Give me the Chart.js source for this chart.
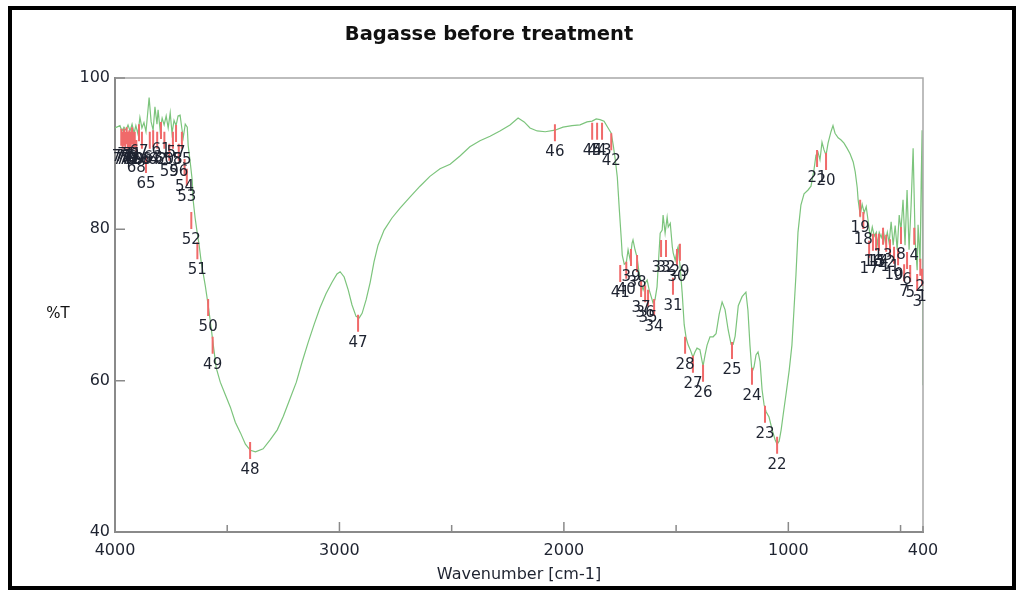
<!DOCTYPE html>
<html>
<head>
<meta charset="utf-8">
<script src="https://cdn.jsdelivr.net/npm/chart.js@4"></script>
<style>
  html, body { margin: 0; padding: 0; background: #fff; }
  #wrap { width: 1022px; height: 590px; }
</style>
</head>
<body>
<div id="wrap"><canvas id="ftirChart" width="1022" height="590"></canvas></div>
<script>
// spectrum (cm-1 / %T)
const wavenumber = [
  4000, 3978, 3969, 3960, 3951, 3942, 3933, 3924, 3915, 3907, 3898, 3889, 3880, 3871, 3862, 3853, 3848, 3839, 3830, 3822,
  3813, 3808, 3799, 3790, 3781, 3772, 3763, 3754, 3746, 3737, 3728, 3719, 3710, 3701, 3696, 3687, 3678, 3674, 3665, 3656,
  3652, 3643, 3634, 3625, 3616, 3598, 3585, 3576, 3562, 3549, 3531, 3508, 3486, 3464, 3441, 3419, 3397, 3374, 3340, 3308,
  3277, 3250, 3219, 3192, 3166, 3139, 3112, 3087, 3060, 3033, 3011, 2997, 2979, 2961, 2944, 2926, 2912, 2899, 2881, 2863,
  2846, 2828, 2801, 2766, 2730, 2685, 2641, 2597, 2552, 2507, 2463, 2419, 2374, 2329, 2285, 2240, 2204, 2177, 2151, 2119,
  2083, 2040, 2004, 1964, 1928, 1897, 1874, 1856, 1839, 1821, 1803, 1789, 1780, 1771, 1762, 1753, 1744, 1740, 1731, 1722,
  1714, 1705, 1696, 1692, 1683, 1674, 1665, 1656, 1647, 1638, 1629, 1620, 1611, 1603, 1594, 1585, 1580, 1571, 1562, 1558,
  1549, 1540, 1535, 1526, 1517, 1513, 1504, 1495, 1491, 1482, 1473, 1464, 1455, 1446, 1437, 1425, 1416, 1407, 1394, 1380,
  1371, 1362, 1349, 1335, 1322, 1308, 1295, 1282, 1268, 1255, 1246, 1237, 1223, 1206, 1189, 1180, 1171, 1162, 1153, 1144,
  1135, 1126, 1117, 1108, 1099, 1086, 1072, 1059, 1050, 1041, 1032, 1023, 1009, 996, 984, 975, 966, 957, 944, 930,
  912, 899, 886, 877, 868, 859, 850, 841, 832, 823, 810, 801, 792, 778, 765, 752, 738, 725, 711, 702,
  693, 689, 680, 671, 662, 653, 644, 635, 626, 617, 608, 604, 595, 586, 577, 568, 559, 551, 542, 533,
  524, 515, 506, 498, 489, 480, 471, 462, 453, 444, 435, 426, 422, 413, 408, 404, 400
];
const transmittance = [
  93.4, 93.7, 93.0, 93.5, 93.1, 93.8, 93.0, 93.9, 92.7, 93.7, 92.6, 94.8, 93.4, 94.1, 92.9, 95.8, 97.4, 94.2, 93.1, 96.2,
  93.9, 95.8, 93.1, 94.7, 93.8, 95.0, 93.4, 95.4, 92.7, 94.4, 93.7, 95.0, 95.1, 93.1, 92.1, 93.9, 93.5, 91.1, 88.9, 86.5,
  83.9, 81.5, 79.6, 77.9, 75.7, 72.6, 70.0, 68.0, 64.7, 61.7, 59.8, 58.1, 56.5, 54.5, 53.1, 51.6, 50.8, 50.6, 51.0, 52.2,
  53.5, 55.3, 57.7, 59.8, 62.5, 65.1, 67.5, 69.6, 71.5, 73.0, 74.1, 74.4, 73.7, 72.0, 70.0, 68.5, 68.3, 68.9, 70.7, 73.0,
  75.7, 77.9, 79.9, 81.5, 82.8, 84.3, 85.7, 87.0, 88.0, 88.6, 89.7, 90.9, 91.7, 92.3, 93.0, 93.8, 94.7, 94.2, 93.4, 93.0,
  92.9, 93.1, 93.5, 93.7, 93.8, 94.2, 94.3, 94.6, 94.5, 94.3, 93.4, 92.7, 91.1, 89.2, 86.9, 82.6, 78.6, 76.6, 75.4, 75.6,
  77.3, 76.0, 78.2, 78.6, 77.3, 76.3, 74.3, 72.9, 72.0, 72.9, 73.3, 72.0, 71.1, 70.3, 70.7, 72.4, 75.0, 79.5, 79.9, 81.9,
  79.5, 81.6, 80.3, 80.8, 77.7, 76.9, 75.9, 77.3, 77.7, 75.0, 71.6, 67.4, 65.6, 64.7, 64.1, 63.1, 63.8, 64.3, 64.1, 61.9,
  63.4, 64.7, 65.8, 65.8, 66.2, 68.8, 70.4, 69.4, 66.7, 64.8, 64.8, 65.9, 69.9, 71.1, 71.7, 69.3, 64.7, 61.1, 61.8, 63.4,
  63.8, 62.5, 58.8, 56.8, 55.9, 55.2, 53.5, 52.2, 51.6, 52.0, 53.5, 55.5, 58.5, 61.4, 64.7, 69.3, 74.0, 79.6, 83.2, 84.7,
  85.2, 85.7, 87.8, 89.8, 90.2, 89.2, 91.5, 90.5, 89.8, 91.4, 92.9, 93.7, 92.7, 92.1, 91.8, 91.4, 90.7, 90.0, 88.9, 87.6,
  85.5, 83.9, 81.9, 83.3, 82.2, 83.0, 81.0, 78.9, 80.3, 79.1, 79.6, 77.9, 79.6, 78.9, 79.9, 78.3, 79.6, 78.2, 81.0, 77.9,
  80.5, 77.3, 81.9, 79.9, 83.9, 77.9, 85.2, 77.3, 83.2, 90.7, 78.6, 74.6, 80.6, 75.7, 86.5, 93.1, 59.4
];

// picked peaks
const peakNumber = Array.from({ length: 79 }, (_, i) => i + 1);
const peakWavenumber = [
  404, 412, 426, 439, 457, 471, 484, 498, 511, 529, 547, 564, 578, 596, 609, 623, 640, 666, 680, 832,
  872, 1050, 1104, 1162, 1251, 1380, 1425, 1460, 1483, 1496, 1514, 1545, 1567, 1598, 1625, 1638, 1656, 1674, 1701, 1722,
  1749, 1789, 1830, 1852, 1874, 2040, 2917, 3398, 3565, 3585, 3633, 3660, 3680, 3690, 3702, 3716, 3728, 3742, 3758, 3780,
  3795, 3812, 3830, 3845, 3862, 3880, 3893, 3905, 3912, 3918, 3924, 3930, 3936, 3942, 3948, 3954, 3960, 3966, 3972
];
const peakTransmittance = [
  74.8, 76.1, 74.1, 80.2, 75.3, 77.0, 75.4, 80.3, 77.5, 77.7, 78.7, 79.3, 80.2, 79.4, 79.4, 79.4, 78.5, 82.3, 83.9, 90.1,
  90.5, 52.6, 56.7, 61.7, 65.1, 62.1, 63.3, 65.8, 78.1, 77.4, 73.6, 78.6, 78.6, 70.8, 72.0, 72.6, 73.3, 76.6, 77.4, 75.7,
  75.3, 92.7, 94.1, 94.1, 94.1, 93.9, 68.7, 51.9, 65.8, 70.8, 78.3, 82.3, 88.0, 89.3, 92.9, 91.3, 93.8, 92.9, 91.3, 92.9,
  94.2, 92.9, 93.1, 92.9, 89.7, 92.9, 93.9, 91.8, 92.9, 92.9, 93.5, 92.9, 93.1, 92.9, 93.5, 92.9, 93.3, 92.9, 93.3
];

// axis ticks
const xLabelTicks = [4000, 3000, 2000, 1000, 400];
const xMinorTicks = [3500, 2500, 1500, 500];
const yTicks = [40, 60, 80, 100];

const labelFont = '"DejaVu Sans", sans-serif';

const spectrumDecor = {
  id: "spectrumDecor",
  beforeDraw(chart) {
    const ctx = chart.ctx;
    ctx.save();
    ctx.fillStyle = "#fff";
    ctx.fillRect(0, 0, chart.width, chart.height);
    ctx.restore();
  },
  afterDatasetsDraw(chart) {
    const { ctx, chartArea: a, scales: { x, y } } = chart;
    ctx.save();

    // plot frame (top / right)
    ctx.strokeStyle = "#a8a8a8";
    ctx.lineWidth = 1.5;
    ctx.beginPath();
    ctx.moveTo(a.left, a.top);
    ctx.lineTo(a.right, a.top);
    ctx.lineTo(a.right, a.bottom);
    ctx.stroke();

    // inward tick marks
    ctx.strokeStyle = "#8a8a8a";
    ctx.lineWidth = 1.5;
    ctx.beginPath();
    xLabelTicks.forEach(v => {
      const px = x.getPixelForValue(v);
      ctx.moveTo(px, a.bottom);
      ctx.lineTo(px, a.bottom - (v === 400 ? 6 : 10));
    });
    xMinorTicks.forEach(v => {
      const px = x.getPixelForValue(v);
      ctx.moveTo(px, a.bottom);
      ctx.lineTo(px, a.bottom - 7);
    });
    yTicks.forEach(v => {
      const py = y.getPixelForValue(v);
      ctx.moveTo(a.left, py);
      ctx.lineTo(a.left + 10, py);
    });
    ctx.stroke();

    // peak picks
    ctx.strokeStyle = "#f06a6a";
    ctx.lineWidth = 2;
    ctx.beginPath();
    peakNumber.forEach((n, i) => {
      const px = x.getPixelForValue(peakWavenumber[i]);
      const py = y.getPixelForValue(peakTransmittance[i]);
      ctx.moveTo(px, py);
      ctx.lineTo(px, py + 17);
    });
    ctx.stroke();

    ctx.fillStyle = "#1e2330";
    ctx.font = "15px " + labelFont;
    ctx.textAlign = "center";
    ctx.textBaseline = "middle";
    peakNumber.forEach((n, i) => {
      const px = x.getPixelForValue(peakWavenumber[i]);
      const py = y.getPixelForValue(peakTransmittance[i]);
      ctx.fillText(String(n), px, py + 28);
    });

    // chart title and y label
    ctx.fillStyle = "#111";
    ctx.font = "bold 19.5px " + labelFont;
    ctx.fillText("Bagasse before treatment", 489, 35);
    ctx.font = "15px " + labelFont;
    ctx.fillText("%T", 58, 314);

    // outer frame
    ctx.strokeStyle = "#000";
    ctx.lineWidth = 4;
    ctx.strokeRect(10, 8, 1004, 580);
    ctx.restore();
  }
};

new Chart(document.getElementById("ftirChart"), {
  type: "line",
  data: {
    datasets: [{
      data: wavenumber.map((w, i) => ({ x: w, y: transmittance[i] })),
      borderColor: "#7cc47c",
      borderWidth: 1.2,
      pointRadius: 0,
      tension: 0,
      fill: false
    }]
  },
  options: {
    responsive: false,
    animation: false,
    devicePixelRatio: 1,
    layout: { padding: { left: 0, right: 99, top: 78, bottom: 0 } },
    plugins: {
      legend: { display: false },
      title: { display: false },
      tooltip: { enabled: false }
    },
    scales: {
      x: {
        type: "linear",
        reverse: true,
        min: 400,
        max: 4000,
        afterBuildTicks: s => { s.ticks = xLabelTicks.map(v => ({ value: v })); },
        afterFit: s => { s.height = 58; },
        grid: { drawOnChartArea: false, drawTicks: false },
        border: { color: "#8a8a8a", width: 2 },
        ticks: {
          padding: 9,
          maxRotation: 0,
          autoSkip: false,
          color: "#1e2330",
          font: { family: labelFont, size: 16 },
          callback: v => String(v)
        },
        title: {
          display: true,
          text: "Wavenumber [cm-1]",
          color: "#1e2330",
          font: { family: labelFont, size: 16 },
          padding: { top: 0, bottom: 6 }
        }
      },
      y: {
        min: 40,
        max: 100,
        afterBuildTicks: s => { s.ticks = yTicks.map(v => ({ value: v })); },
        afterFit: s => { s.width = 115; },
        grid: { drawOnChartArea: false, drawTicks: false },
        border: { color: "#8a8a8a", width: 2 },
        ticks: {
          padding: 5,
          color: "#1e2330",
          font: { family: labelFont, size: 16 }
        }
      }
    }
  },
  plugins: [spectrumDecor]
});
</script>
</body>
</html>
